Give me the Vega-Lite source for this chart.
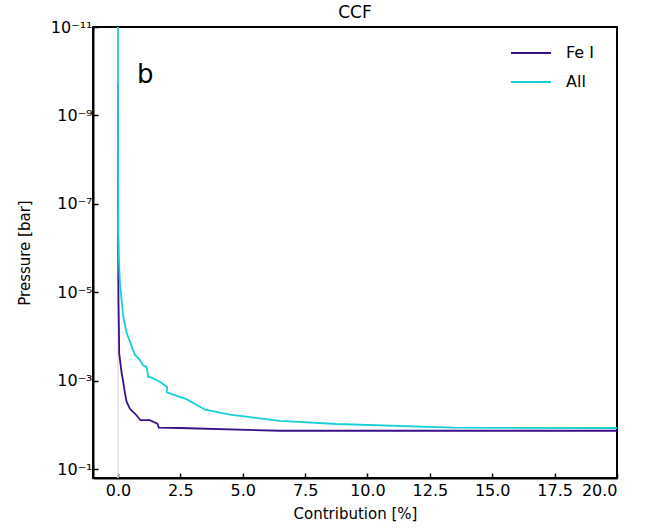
{
  "$schema": "https://vega.github.io/schema/vega-lite/v6.json",
  "width": 524,
  "height": 451,
  "autosize": {"type": "none"},
  "padding": {"left": 93, "top": 27, "right": 41, "bottom": 51},
  "background": "white",
  "title": {"text": "CCF", "fontSize": 17, "fontWeight": "normal", "font": "DejaVu Sans", "offset": -3, "color": "black"},
  "config": {
    "font": "DejaVu Sans",
    "view": {"stroke": "black", "strokeWidth": 2},
    "axis": {
      "grid": false,
      "domainColor": "black",
      "domainWidth": 2,
      "tickColor": "black",
      "tickWidth": 1.5,
      "tickSize": -5,
      "labelFontSize": 16,
      "labelColor": "black",
      "titleFontSize": 15,
      "titleFontWeight": "normal",
      "titleColor": "black"
    },
    "legend": {
      "labelFontSize": 16,
      "labelColor": "black",
      "symbolType": "stroke",
      "symbolSize": 1600,
      "symbolStrokeWidth": 2,
      "labelOffset": 14,
      "rowPadding": 0,
      "padding": 0
    }
  },
  "datasets": {
    "curves": [
      {"series": "Fe I", "i": 0, "c": 0, "p": 1.9e-10},
      {"series": "Fe I", "i": 1, "c": 0.01, "p": 4.6e-7},
      {"series": "Fe I", "i": 2, "c": 0.02, "p": 1.5e-5},
      {"series": "Fe I", "i": 3, "c": 0.04, "p": 7.2e-5},
      {"series": "Fe I", "i": 4, "c": 0.05, "p": 2.4e-4},
      {"series": "Fe I", "i": 5, "c": 0.15, "p": 6.8e-4},
      {"series": "Fe I", "i": 6, "c": 0.21, "p": 1.05e-3},
      {"series": "Fe I", "i": 7, "c": 0.28, "p": 1.9e-3},
      {"series": "Fe I", "i": 8, "c": 0.35, "p": 3.0e-3},
      {"series": "Fe I", "i": 9, "c": 0.48, "p": 4.3e-3},
      {"series": "Fe I", "i": 10, "c": 0.68, "p": 5.5e-3},
      {"series": "Fe I", "i": 11, "c": 0.91, "p": 7.8e-3},
      {"series": "Fe I", "i": 12, "c": 1.28, "p": 7.8e-3},
      {"series": "Fe I", "i": 13, "c": 1.58, "p": 9.3e-3},
      {"series": "Fe I", "i": 14, "c": 1.64, "p": 1.15e-2},
      {"series": "Fe I", "i": 15, "c": 2.48, "p": 1.17e-2},
      {"series": "Fe I", "i": 16, "c": 6.49, "p": 1.35e-2},
      {"series": "Fe I", "i": 17, "c": 20, "p": 1.35e-2},
      {"series": "All", "i": 0, "c": 0, "p": 1e-11},
      {"series": "All", "i": 1, "c": 0, "p": 1.9e-10},
      {"series": "All", "i": 2, "c": 0.012, "p": 4.6e-7},
      {"series": "All", "i": 3, "c": 0.04, "p": 1.9e-6},
      {"series": "All", "i": 4, "c": 0.08, "p": 6.2e-6},
      {"series": "All", "i": 5, "c": 0.21, "p": 3.5e-5},
      {"series": "All", "i": 6, "c": 0.35, "p": 8.3e-5},
      {"series": "All", "i": 7, "c": 0.48, "p": 1.3e-4},
      {"series": "All", "i": 8, "c": 0.68, "p": 2.6e-4},
      {"series": "All", "i": 9, "c": 0.88, "p": 3.4e-4},
      {"series": "All", "i": 10, "c": 1.01, "p": 4.5e-4},
      {"series": "All", "i": 11, "c": 1.15, "p": 4.9e-4},
      {"series": "All", "i": 12, "c": 1.21, "p": 8.1e-4},
      {"series": "All", "i": 13, "c": 1.35, "p": 8.5e-4},
      {"series": "All", "i": 14, "c": 1.68, "p": 1.05e-3},
      {"series": "All", "i": 15, "c": 1.98, "p": 1.4e-3},
      {"series": "All", "i": 16, "c": 1.95, "p": 1.8e-3},
      {"series": "All", "i": 17, "c": 2.15, "p": 2.0e-3},
      {"series": "All", "i": 18, "c": 2.75, "p": 2.6e-3},
      {"series": "All", "i": 19, "c": 3.49, "p": 4.5e-3},
      {"series": "All", "i": 20, "c": 4.49, "p": 5.8e-3},
      {"series": "All", "i": 21, "c": 6.49, "p": 8.1e-3},
      {"series": "All", "i": 22, "c": 8.77, "p": 9.5e-3},
      {"series": "All", "i": 23, "c": 13.44, "p": 1.15e-2},
      {"series": "All", "i": 24, "c": 20, "p": 1.17e-2}
    ]
  },
  "layer": [
    {
      "data": {"values": [{"c": 0}]},
      "mark": {"type": "rule", "color": "#e3e3e3", "strokeWidth": 1.5},
      "encoding": {
        "x": {"field": "c", "type": "quantitative"}
      }
    },
    {
      "data": {"name": "curves"},
      "mark": {"type": "line", "strokeWidth": 1.8, "clip": true},
      "encoding": {
        "x": {
          "field": "c", "type": "quantitative",
          "scale": {"domain": [-1, 20], "nice": false, "zero": false},
          "axis": {"title": "Contribution [%]", "values": [0, 2.5, 5, 7.5, 10, 12.5, 15, 17.5, 20], "format": ".1f", "labelPadding": 9, "titlePadding": 8}
        },
        "y": {
          "field": "p", "type": "quantitative",
          "scale": {"type": "log", "domain": [1e-11, 0.158], "nice": false, "reverse": true},
          "axis": {
            "title": "Pressure [bar]",
            "values": [1e-11, 1e-9, 1e-7, 1e-5, 1e-3, 1e-1],
            "labelExpr": "datum.value < 1e-10 ? '10⁻¹¹' : datum.value < 1e-8 ? '10⁻⁹' : datum.value < 1e-6 ? '10⁻⁷' : datum.value < 1e-4 ? '10⁻⁵' : datum.value < 1e-2 ? '10⁻³' : '10⁻¹'",
            "labelPadding": 6,
            "titlePadding": 18
          }
        },
        "color": {
          "field": "series", "type": "nominal",
          "scale": {"domain": ["Fe I", "All"], "range": ["#3a0f8c", "#19cfd6"]},
          "legend": {"title": null, "orient": "none", "legendX": 417, "legendY": 5}
        },
        "order": {"field": "i", "type": "quantitative"}
      }
    },
    {
      "data": {"values": [{"c": 0.76, "p": 1.8e-10, "label": "b"}]},
      "mark": {"type": "text", "fontSize": 26, "align": "left", "baseline": "alphabetic", "color": "black"},
      "encoding": {
        "x": {"field": "c", "type": "quantitative"},
        "y": {"field": "p", "type": "quantitative"},
        "text": {"field": "label"}
      }
    }
  ]
}
